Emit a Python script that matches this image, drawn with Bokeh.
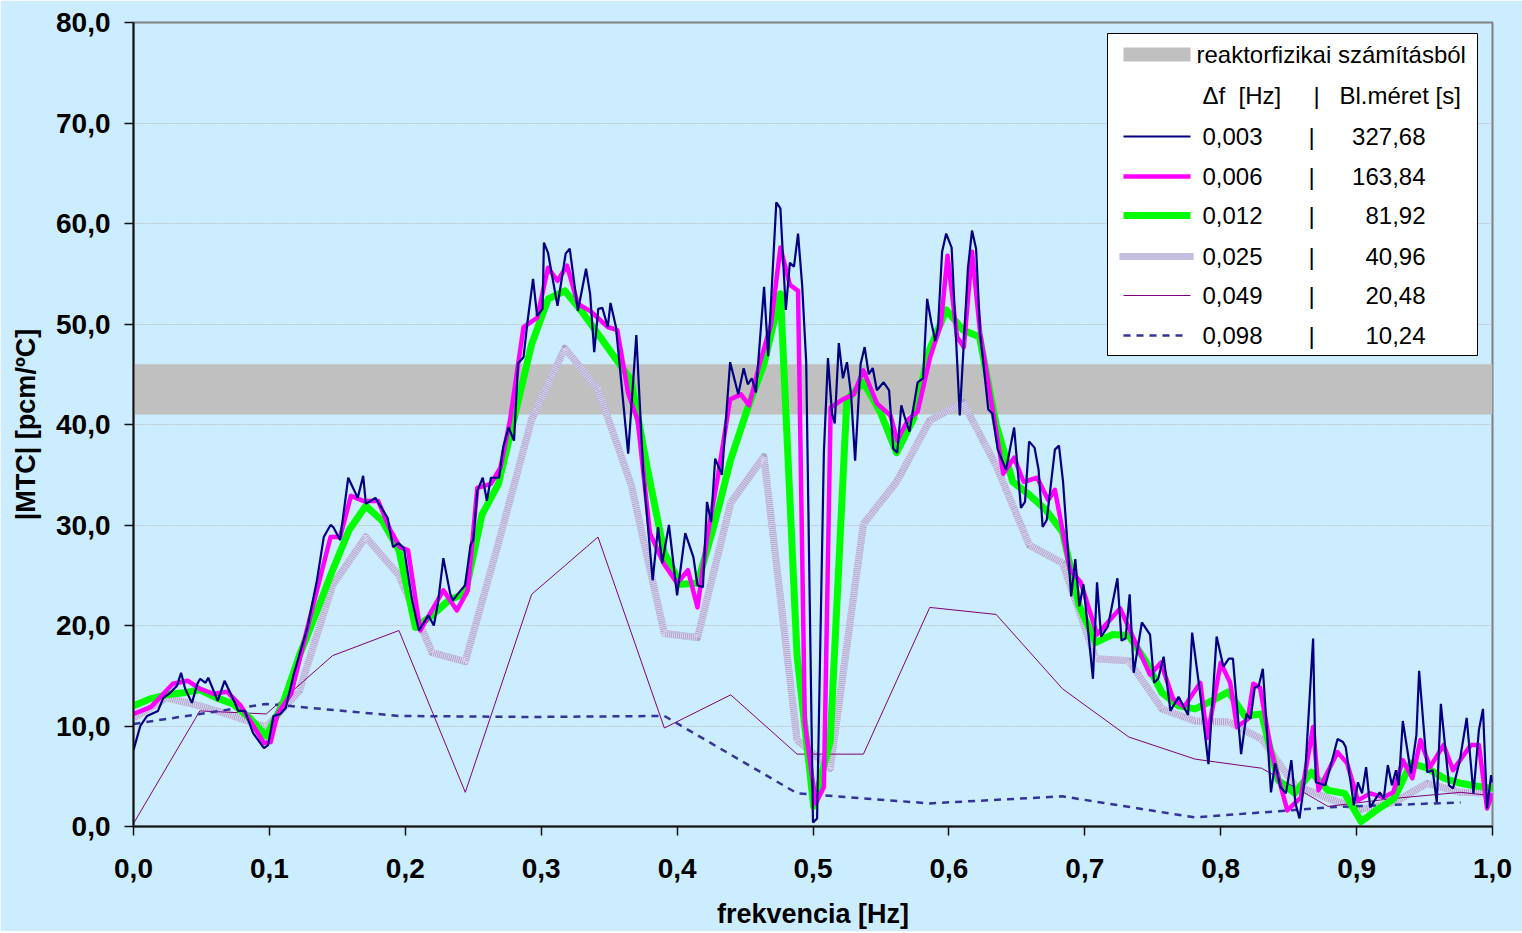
from bokeh.plotting import figure
from bokeh.models import Range1d, FixedTicker, CustomJSTickFormatter
from bokeh.embed import file_html
from bokeh.resources import INLINE
from bokeh.core.properties import value

# ---------------- data ----------------
band_low, band_high = 41.0, 46.0

navy_f = [0.000,0.005,0.010,0.018,0.022,0.027,0.032,0.035,0.038,0.043,0.047,0.049,0.053,0.055,0.062,0.067,0.074,0.077,0.082,0.088,
          0.096,0.099,0.103,0.108,0.112,0.118,0.128,0.135,0.140,0.145,0.147,0.152,0.158,0.165,0.169,0.171,0.178,0.187,0.191,0.195,
          0.199,0.205,0.210,0.217,0.221,0.224,0.228,0.233,0.235,0.239,0.244,0.248,0.250,0.253,0.257,0.260,0.263,0.269,0.272,0.276,
          0.280,0.283,0.287,0.290,0.294,0.297,0.301,0.302,0.305,0.312,0.318,0.321,0.327,0.333,0.336,0.339,0.342,0.345,0.349,0.351,
          0.355,0.364,0.370,0.375,0.382,0.386,0.389,0.394,0.400,0.406,0.412,0.415,0.419,0.422,0.425,0.428,0.433,0.439,0.445,0.449,
          0.452,0.455,0.458,0.464,0.467,0.473,0.476,0.480,0.483,0.486,0.489,0.492,0.495,0.500,0.503,0.508,0.511,0.514,0.516,0.519,
          0.522,0.525,0.528,0.531,0.535,0.538,0.541,0.544,0.547,0.552,0.556,0.559,0.562,0.565,0.568,0.571,0.577,0.581,0.584,0.587,
          0.590,0.592,0.595,0.598,0.602,0.608,0.614,0.617,0.620,0.623,0.629,0.632,0.636,0.642,0.648,0.653,0.656,0.659,0.663,0.666,
          0.669,0.672,0.678,0.681,0.684,0.690,0.693,0.696,0.699,0.706,0.709,0.712,0.717,0.724,0.727,0.730,0.733,0.736,0.742,0.748,
          0.751,0.754,0.758,0.763,0.769,0.776,0.779,0.785,0.791,0.797,0.802,0.806,0.809,0.815,0.819,0.822,0.825,0.828,0.831,0.837,
          0.840,0.844,0.848,0.852,0.855,0.858,0.862,0.868,0.870,0.877,0.882,0.886,0.890,0.892,0.898,0.901,0.904,0.907,0.910,0.917,
          0.920,0.923,0.926,0.929,0.931,0.934,0.940,0.944,0.946,0.952,0.956,0.959,0.962,0.968,0.971,0.976,0.981,0.986,0.990,0.993,
          0.996,0.999,1.000]
navy_v = [7.6,10.0,11.0,11.5,12.8,13.3,14.0,15.3,13.7,12.3,14.2,14.7,14.3,14.8,12.5,14.5,12.5,11.5,11.5,9.3,
          7.8,8.1,11.0,11.2,11.8,15.2,19.8,24.5,28.8,30.0,29.8,28.5,34.7,32.7,34.9,32.1,32.7,30.7,27.8,28.2,
          27.7,22.5,19.5,21.0,20.0,22.2,26.7,23.2,22.5,23.2,24.0,28.0,28.5,33.4,34.7,32.4,34.7,34.7,37.7,39.7,
          38.4,46.1,46.7,50.3,54.5,50.8,51.5,58.1,57.1,51.8,57.0,57.5,51.3,55.5,53.0,47.2,51.5,51.6,49.7,52.1,
          49.7,37.1,48.9,35.4,24.5,29.8,26.2,30.0,23.0,29.2,26.8,24.0,23.8,32.3,30.3,36.6,35.0,46.2,43.0,45.6,
          44.0,44.6,43.2,53.7,46.8,62.1,61.5,51.4,56.1,55.7,59.0,53.9,46.2,0.4,0.8,37.2,46.6,41.1,40.1,48.1,
          44.6,46.2,43.0,36.4,46.0,47.7,45.0,45.6,43.4,44.2,43.4,37.6,37.2,41.9,40.5,39.3,44.2,44.6,52.5,50.2,
          48.3,49.7,57.2,59.0,57.6,40.9,55.5,59.3,57.5,49.1,41.5,41.1,37.5,35.5,39.7,31.7,32.3,38.3,37.7,35.5,
          29.8,30.5,37.5,37.9,34.3,22.9,26.6,21.9,24.1,14.7,24.3,18.9,19.9,24.7,18.5,18.7,23.1,15.3,20.3,19.1,
          14.3,14.7,16.9,11.5,12.9,11.1,19.3,13.1,6.2,18.9,15.9,16.7,16.7,7.2,11.2,10.7,13.8,14.0,15.7,3.4,
          6.3,3.9,3.3,6.6,2.3,0.8,4.9,18.7,4.4,4.1,6.6,8.7,8.4,7.9,2.1,4.4,3.3,5.9,1.9,3.4,
          2.8,6.1,4.1,5.6,4.1,10.5,5.3,9.1,15.5,5.4,5.6,2.4,12.2,4.1,3.8,6.6,10.8,3.3,9.6,11.7,
          1.8,5.1,4.4]

magenta_f = [0.000,0.013,0.029,0.040,0.049,0.059,0.069,0.079,0.096,0.101,0.106,0.116,0.128,0.145,0.152,0.160,0.169,0.180,0.189,0.196,
             0.202,0.211,0.228,0.238,0.246,0.253,0.263,0.270,0.277,0.287,0.297,0.305,0.312,0.319,0.327,0.336,0.349,0.356,0.364,0.371,
             0.380,0.390,0.400,0.408,0.415,0.422,0.430,0.439,0.447,0.453,0.461,0.469,0.476,0.483,0.489,0.494,0.502,0.508,0.513,0.522,
             0.530,0.537,0.547,0.557,0.562,0.570,0.577,0.586,0.594,0.599,0.606,0.611,0.617,0.623,0.636,0.640,0.648,0.655,0.665,0.673,
             0.678,0.684,0.689,0.697,0.709,0.726,0.736,0.748,0.756,0.765,0.773,0.785,0.790,0.800,0.807,0.812,0.820,0.824,0.829,0.837,
             0.849,0.859,0.868,0.872,0.886,0.893,0.901,0.910,0.920,0.927,0.934,0.941,0.947,0.954,0.964,0.971,0.984,0.990,0.996,1.000]
magenta_v = [11.2,11.9,14.2,14.5,13.7,13.2,13.4,12.0,8.3,8.4,11.2,13.2,19.8,28.8,28.8,32.9,32.4,32.4,29.5,27.8,
             27.5,19.5,23.5,21.5,23.5,33.7,34.1,35.7,40.4,49.7,50.6,55.6,54.3,55.8,52.0,51.3,49.7,49.4,43.1,40.4,
             29.2,26.2,24.2,25.5,21.8,28.7,34.8,42.5,43.0,41.9,46.2,49.9,57.6,53.9,53.3,10.3,2.3,3.9,41.7,42.5,
             43.0,45.4,42.1,40.9,38.4,40.5,41.3,46.6,49.9,56.8,48.7,47.7,57.2,49.1,38.3,35.1,36.7,34.3,34.7,32.5,
             33.5,29.2,25.6,24.3,19.1,21.7,18.7,15.1,16.3,12.7,11.9,14.3,8.8,16.3,14.3,9.9,10.7,14.2,13.8,7.6,
             1.6,2.9,9.9,3.6,7.4,6.3,2.6,3.3,2.9,3.4,6.6,4.8,8.6,5.9,8.1,5.6,8.1,8.1,1.8,3.3]

# 0,012 Hz resolution (81,92 s blocks)
green_step = 1 / 81.92
green_v = [12.0,12.7,13.1,13.3,13.6,12.8,12.2,10.8,9.0,12.2,17.0,21.2,25.5,29.5,31.9,30.4,27.5,19.8,21.0,22.5,
           23.2,31.0,34.1,41.0,48.0,52.5,53.3,51.3,49.0,46.7,44.4,35.4,27.2,24.1,24.2,30.0,36.5,41.5,46.0,53.0,
           17.0,2.0,8.5,42.5,44.2,41.3,37.2,40.5,47.5,51.4,49.4,48.7,40.0,34.3,33.0,31.5,29.3,22.0,18.3,19.1,
           19.0,16.5,13.3,12.0,11.7,12.5,13.4,11.0,11.2,4.6,3.3,5.4,3.6,3.3,0.5,1.7,2.8,6.3,5.8,4.8,
           4.3,4.0,3.8]

# 0,025 Hz resolution (40,96 s blocks)
lav_step = 1 / 40.96
lav_v = [10.8,12.8,12.0,11.0,9.9,13.5,24.0,28.8,25.0,17.3,16.4,28.2,40.5,47.6,43.5,34.0,19.2,18.8,32.2,36.8,
         8.6,5.8,30.1,34.3,40.4,42.2,35.9,28.0,26.2,16.7,16.5,11.7,10.5,10.4,8.7,4.1,2.8,1.7,2.4,4.3,
         3.4,3.3]

# 0,049 Hz resolution (20,48 s blocks)
purple_step = 1 / 20.48
purple_v = [0.3,11.5,11.2,17.0,19.5,3.4,23.1,28.8,9.8,13.1,7.2,7.2,21.8,21.1,13.7,8.9,6.7,5.8,2.0,2.8,
            3.4,2.7]

# 0,098 Hz resolution (10,24 s blocks)
dash_step = 1 / 10.24
dash_v = [10.2,12.2,11.0,10.9,11.0,3.3,2.3,3.0,0.9,1.9,2.4]

x_ticks = [i / 10 for i in range(11)]
y_ticks = [i * 10 for i in range(9)]

legend_band_label = "reaktorfizikai számításból"
legend_head = ["Δf\u00a0\u00a0[Hz]", "|", "Bl.méret [s]"]
legend_df = ["0,003", "0,006", "0,012", "0,025", "0,049", "0,098"]
legend_bl = ["327,68", "163,84", "81,92", "40,96", "20,48", "10,24"]

# ---------------- figure ----------------
BG = "#CCECFF"
FONT = "Liberation Sans"
LAV_DARK = "#ADA5D0"
LAV_LIGHT = "#DCD8EE"

p = figure(frame_width=1359, frame_height=804, output_backend="svg", toolbar_location=None,
           x_range=Range1d(0, 1), y_range=Range1d(0, 80),
           min_border_left=133, min_border_right=30, min_border_top=22, min_border_bottom=105)
p.background_fill_color = BG
p.border_fill_color = BG
p.outline_line_color = "#808080"
p.outline_line_width = 2

p.xgrid.visible = False
p.ygrid.grid_line_color = "#BFC8CE"
p.ygrid.grid_line_width = 1
p.ygrid.grid_line_dash = "2 1"

for ax in (p.xaxis[0], p.yaxis[0]):
    ax.axis_line_color = "#111111"
    ax.axis_line_width = 2
    ax.major_tick_line_color = "#111111"
    ax.major_tick_line_width = 1.5
    ax.major_tick_in = 0
    ax.major_tick_out = 9
    ax.minor_tick_line_color = None
    ax.major_label_text_font = FONT
    ax.major_label_text_font_style = "bold"
    ax.major_label_text_font_size = "28px"
    ax.major_label_text_color = "black"
    ax.axis_label_text_font = FONT
    ax.axis_label_text_font_style = "bold"
    ax.axis_label_text_font_size = "27px"
    ax.axis_label_text_color = "black"
    ax.formatter = CustomJSTickFormatter(code="return tick.toFixed(1).replace('.', ',');")

p.xaxis.ticker = FixedTicker(ticks=x_ticks)
p.yaxis.ticker = FixedTicker(ticks=y_ticks)
p.xaxis.axis_label = "frekvencia [Hz]"
p.yaxis.axis_label = "|MTC| [pcm/ºC]"
p.xaxis.major_label_standoff = 23
p.yaxis.major_label_standoff = 14
p.xaxis.axis_label_standoff = 18
p.yaxis.axis_label_standoff = 12

# gray band from reactor physics calculation
p.quad(left=[0], right=[1], bottom=[band_low], top=[band_high], fill_color="#C0C0C0", line_color=None)

def xs(step, vals):
    return [i * step for i in range(len(vals))]

# series
p.line(xs(lav_step, lav_v), lav_v, line_color=LAV_DARK, line_width=7, line_join="round")
p.line(xs(lav_step, lav_v), lav_v, line_color=LAV_LIGHT, line_width=7, line_dash="1 1")
p.line(xs(purple_step, purple_v), purple_v, line_color="#800080", line_width=1)
p.line(xs(dash_step, dash_v), dash_v, line_color="#333399", line_width=2.5, line_dash="7 6")
p.line(xs(green_step, green_v), green_v, line_color="#00FF00", line_width=7, line_join="round")
p.line(magenta_f, magenta_v, line_color="#FF00FF", line_width=4.5, line_join="round")
p.line(navy_f, navy_v, line_color="#000080", line_width=2.2)

# ---------------- legend (drawn in plot coordinates) ----------------
def X(px):
    return (px - 133) / 1359

def Y(py):
    return (826 - py) / 10.05

p.quad(left=[X(1107)], right=[X(1477)], top=[Y(33)], bottom=[Y(355)],
       fill_color="white", line_color="black", line_width=1)
p.quad(left=[X(1123)], right=[X(1190)], top=[Y(47)], bottom=[Y(61)], fill_color="#C0C0C0", line_color=None)

row_y = [136, 176, 215, 256, 295, 335]
seg = [X(1123), X(1190)]
p.line(seg, [Y(row_y[0])] * 2, line_color="#000080", line_width=2.2)
p.line(seg, [Y(row_y[1])] * 2, line_color="#FF00FF", line_width=4.5)
p.line(seg, [Y(row_y[2])] * 2, line_color="#00FF00", line_width=7)
p.line([X(1119), X(1193)], [Y(row_y[3])] * 2, line_color=LAV_DARK, line_width=7)
p.line([X(1119), X(1193)], [Y(row_y[3])] * 2, line_color=LAV_LIGHT, line_width=7, line_dash="1 1")
p.line(seg, [Y(row_y[4])] * 2, line_color="#800080", line_width=1)
p.line([X(1123), X(1184)], [Y(row_y[5])] * 2, line_color="#333399", line_width=2.5, line_dash="7 6")

tk = dict(text_font=value(FONT), text_font_size="24px", text_baseline="middle", text_color="black")
p.text(x=[X(1196)], y=[Y(54)], text=[legend_band_label], text_align="left", **tk)
p.text(x=[X(1202)], y=[Y(95)], text=[legend_head[0]], text_align="left", **tk)
p.text(x=[X(1316)], y=[Y(95)], text=[legend_head[1]], text_align="center", **tk)
p.text(x=[X(1339)], y=[Y(95)], text=[legend_head[2]], text_align="left", **tk)
p.text(x=[X(1202)] * 6, y=[Y(v) for v in row_y], text=legend_df, text_align="left", **tk)
p.text(x=[X(1311)] * 6, y=[Y(v) for v in row_y], text=["|"] * 6, text_align="center", **tk)
p.text(x=[X(1425)] * 6, y=[Y(v) for v in row_y], text=legend_bl, text_align="right", **tk)

open("out.html", "w").write(file_html(p, INLINE))
